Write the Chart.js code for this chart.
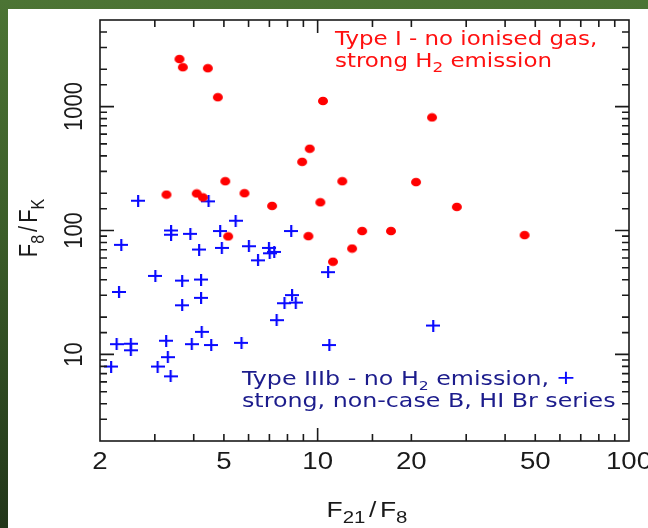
<!DOCTYPE html>
<html>
<head>
<meta charset="utf-8">
<script src="https://cdn.jsdelivr.net/npm/chart.js@4.4.1/dist/chart.umd.min.js"></script>
<style>
  html, body { margin: 0; padding: 0; }
  body {
    width: 648px; height: 528px; overflow: hidden; position: relative;
    background: linear-gradient(to bottom, #4c7434 0%, #3b5c29 45%, #22361a 100%);
  }
  #panel { position: absolute; left: 8px; top: 9px; width: 640px; height: 519px; background: #fff; }
  #myChart { position: absolute; left: 0; top: 0; }
</style>
</head>
<body>
<div id="panel"></div>
<canvas id="myChart" width="648" height="528"></canvas>
<script>
// Type I sources: no ionised gas, strong H2
var typeI_x = [3.60, 3.69, 4.44, 4.78, 10.4, 23.3, 9.43, 8.92, 5.05, 12.0, 20.7, 3.27, 4.09,
               5.82, 4.28, 10.2, 7.14, 28.0, 13.9, 17.2, 5.16, 9.34, 46.2, 12.9, 11.2];
var typeI_y = [2420, 2080, 2040, 1190, 1110, 818, 457, 358, 250, 250, 246, 195, 199,
               200, 185, 169, 158, 155, 99, 99, 89.6, 90, 91.8, 71.5, 56];

// Type IIIb sources: no H2, strong non-case B Br series
var typeIIIb_x = [2.65, 4.46, 5.45, 3.38, 3.38, 3.90, 4.86, 8.22, 2.34, 4.16, 4.92, 6.01, 6.97, 7.01,
                  7.25, 6.43, 10.8, 3.01, 3.67, 4.22, 2.30, 4.22, 8.27, 7.82, 8.50, 3.67, 7.38, 23.5,
                  4.24, 3.26, 2.26, 2.51, 2.51, 3.94, 4.55, 5.69, 10.9, 3.30, 2.17, 3.06, 3.37];
var typeIIIb_y = [174, 172, 120, 100, 92.5, 94, 99, 99, 76.6, 70.2, 72.4, 74.7, 72.4, 65.5,
                  67.2, 57.4, 46.1, 43, 39.4, 40.2, 31.9, 28.6, 30.1, 25.9, 26.2, 24.9, 18.9, 17.1,
                  15.2, 12.9, 12.1, 12.2, 10.8, 12.1, 11.9, 12.4, 11.9, 9.5, 7.98, 7.98, 6.65];

var xTickLabels = [2, 5, 10, 20, 50, 100];
var yTickLabels = [10, 100, 1000];

var SX = 1.2; // figure is stretched a little horizontally

function points(xs, ys) {
  return xs.map(function (x, i) { return { x: x, y: ys[i] }; });
}

// marker sprites (slightly wide, like the rest of the figure)
function dotSprite() {
  var c = document.createElement('canvas');
  c.width = 12; c.height = 10;
  var g = c.getContext('2d');
  g.fillStyle = '#ff0000';
  g.beginPath();
  g.ellipse(6, 5, 5.0, 4.3, 0, 0, Math.PI * 2);
  g.fill();
  return c;
}
function plusSprite() {
  var c = document.createElement('canvas');
  c.width = 14; c.height = 12;
  var g = c.getContext('2d');
  g.fillStyle = '#0a0aff';
  g.fillRect(0, 5, 14, 2);
  g.fillRect(6, 0, 2.2, 12);
  return c;
}

function drawRuns(ctx, runs, x, y, opt) {
  ctx.save();
  ctx.translate(x, y);
  ctx.scale(SX, 1);
  if (opt.vertical) ctx.rotate(-Math.PI / 2);
  ctx.fillStyle = opt.color;
  ctx.textBaseline = 'alphabetic';
  ctx.textAlign = 'left';
  var total = 0;
  runs.forEach(function (r) {
    ctx.font = (r.sub ? opt.subSize : opt.size) + 'px ' + opt.family;
    r.w = ctx.measureText(r.t).width + (r.gap || 0);
    total += r.w;
  });
  var cx = opt.align === 'center' ? -total / 2 : 0;
  runs.forEach(function (r) {
    ctx.font = (r.sub ? opt.subSize : opt.size) + 'px ' + opt.family;
    ctx.fillText(r.t, cx + (r.gap || 0) / 2, r.sub ? opt.subDrop : 0);
    cx += r.w;
  });
  ctx.restore();
}

var frame = {
  id: 'frame',
  afterDraw: function (chart) {
    var ctx = chart.ctx, a = chart.chartArea;
    var xs = chart.scales.x, ys = chart.scales.y;
    ctx.save();
    ctx.strokeStyle = '#1a1a1a';
    ctx.lineWidth = 1.6;
    ctx.strokeRect(a.left, a.top, a.right - a.left, a.bottom - a.top);

    // inward ticks on all four sides
    ctx.beginPath();
    xs.ticks.forEach(function (t) {
      if (t.value <= xs.min || t.value >= xs.max) return;
      var p = xs.getPixelForValue(t.value);
      var len = Number.isInteger(Math.log10(t.value)) ? 13 : 7;
      ctx.moveTo(p, a.bottom); ctx.lineTo(p, a.bottom - len);
      ctx.moveTo(p, a.top); ctx.lineTo(p, a.top + len);
    });
    ys.ticks.forEach(function (t) {
      if (t.value <= ys.min || t.value >= ys.max) return;
      var p = ys.getPixelForValue(t.value);
      var len = Number.isInteger(Math.log10(t.value)) ? 14 : 7;
      ctx.moveTo(a.left, p); ctx.lineTo(a.left + len, p);
      ctx.moveTo(a.right, p); ctx.lineTo(a.right - len, p);
    });
    ctx.stroke();
    ctx.restore();

    // tick labels
    xTickLabels.forEach(function (v) {
      drawRuns(ctx, [{ t: String(v) }], xs.getPixelForValue(v), 469,
        { size: 23, family: '"Liberation Sans", Arial, sans-serif', color: '#1a1a1a', align: 'center' });
    });
    yTickLabels.forEach(function (v) {
      drawRuns(ctx, [{ t: String(v) }], 82, ys.getPixelForValue(v),
        { size: 22, family: '"Liberation Sans", Arial, sans-serif', color: '#1a1a1a', align: 'center', vertical: true });
    });

    // axis titles
    drawRuns(ctx, [{ t: 'F' }, { t: '21', sub: true }, { t: '/', gap: 6 }, { t: 'F' }, { t: '8', sub: true }],
      367, 517,
      { size: 22, subSize: 17, subDrop: 6, family: '"Liberation Sans", Arial, sans-serif', color: '#1a1a1a', align: 'center' });
    drawRuns(ctx, [{ t: 'F' }, { t: '8', sub: true }, { t: '/', gap: 6 }, { t: 'F' }, { t: 'K', sub: true }],
      37, 228,
      { size: 22, subSize: 16, subDrop: 6, family: '"Liberation Sans", Arial, sans-serif', color: '#1a1a1a', align: 'center', vertical: true });

    // class descriptions
    var lab = { size: 19.1, subSize: 14, subDrop: 5, family: '"DejaVu Sans", sans-serif', color: '#ff1010' };
    drawRuns(ctx, [{ t: 'Type I - no ionised gas,' }], 335, 45, lab);
    drawRuns(ctx, [{ t: 'strong H' }, { t: '2', sub: true }, { t: ' emission' }], 335, 67, lab);
    var lab2 = { size: 19.8, subSize: 13, subDrop: 5, family: '"DejaVu Sans", sans-serif', color: '#1c1c8c' };
    drawRuns(ctx, [{ t: 'Type IIIb - no H' }, { t: '2', sub: true }, { t: ' emission,' }], 242, 385, lab2);
    drawRuns(ctx, [{ t: '+' }], 566, 384, { size: 19.8, family: '"DejaVu Sans", sans-serif', color: '#0a0aff', align: 'center' });
    drawRuns(ctx, [{ t: 'strong, non-case B, HI Br series' }], 242, 407, lab2);
  }
};

var ctx = document.getElementById('myChart').getContext('2d');
var myChart = new Chart(ctx, {
  type: 'scatter',
  data: {
    datasets: [{
      label: 'Type I',
      data: points(typeI_x, typeI_y),
      pointStyle: dotSprite(),
      pointRadius: 5
    }, {
      label: 'Type IIIb',
      data: points(typeIIIb_x, typeIIIb_y),
      pointStyle: plusSprite(),
      pointRadius: 6
    }]
  },
  options: {
    responsive: false,
    animation: false,
    devicePixelRatio: 1,
    layout: { padding: { left: 100, right: 19, top: 20, bottom: 87 } },
    plugins: { legend: { display: false }, tooltip: { enabled: false } },
    scales: {
      x: {
        type: 'logarithmic', min: 2, max: 100,
        grid: { display: false, drawTicks: false },
        border: { display: false },
        ticks: { display: false }
      },
      y: {
        type: 'logarithmic', min: 2, max: 5000,
        grid: { display: false, drawTicks: false },
        border: { display: false },
        ticks: { display: false }
      }
    }
  },
  plugins: [frame]
});
</script>
</body>
</html>
